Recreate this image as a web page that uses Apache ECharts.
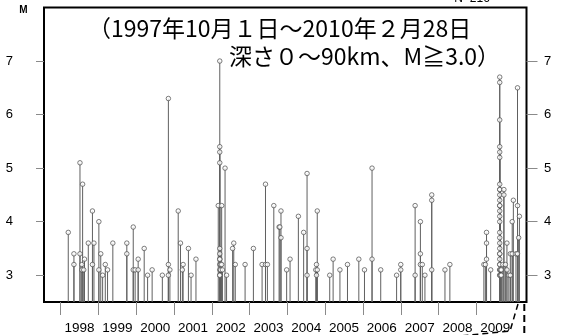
<!DOCTYPE html>
<html><head><meta charset="utf-8">
<script src="https://cdn.jsdelivr.net/npm/echarts@6/dist/echarts.min.js"></script>
<style>html,body{margin:0;padding:0;background:#fff}#c{width:565px;height:335px}</style>
</head><body><div id="c"></div>
<script>
const yearTicks = [1998,1999,2000,2001,2002,2003,2004,2005,2006,2007,2008,2009];
const yearLabels = ['1998','1999','2000','2001','2002','2003','2004','2005','2006','2007','2008','2009'];
const magTicks = [3,4,5,6,7];
const titleLine1 = '（1997年10月１日～2010年２月28日';
const titleLine2 = '深さ０～90km、M≧3.0）';
const countLabel = 'N=216';
const axisName = 'M';

const eventYears = [
 1998.20,1998.35,1998.35,1998.51,1998.51,1998.56,1998.56,1998.58,1998.61,1998.63,
 1998.73,1998.84,1998.84,1998.88,1999.01,1999.01,1999.06,1999.11,1999.18,1999.24,
 1999.38,1999.75,1999.75,1999.92,1999.92,1999.97,2000.05,2000.05,2000.21,2000.30,
 2000.42,2000.69,2000.85,2000.85,2000.85,2000.89,2001.11,2001.17,2001.22,2001.24,
 2001.38,2001.45,2001.58,2002.17,2002.21,2002.21,2002.21,2002.21,2002.21,2002.21,
 2002.21,2002.21,2002.21,2002.21,2002.21,2002.21,2002.23,2002.23,2002.26,2002.26,
 2002.28,2002.35,2002.39,2002.55,2002.58,2002.62,2002.88,2003.10,2003.33,2003.42,
 2003.42,2003.47,2003.64,2003.78,2003.80,2003.83,2003.83,2003.98,2004.07,2004.29,
 2004.43,2004.52,2004.52,2004.52,2004.75,2004.77,2004.77,2004.79,2004.79,2005.12,
 2005.21,2005.39,2005.59,2005.89,2006.04,2006.24,2006.24,2006.47,2006.89,2007.00,
 2007.00,2007.38,2007.38,2007.52,2007.52,2007.52,2007.57,2007.64,2007.82,2007.82,
 2007.82,2008.17,2008.30,2009.20,2009.24,2009.27,2009.27,2009.27,2009.38,
 2009.62,2009.62,2009.62,2009.62,2009.62,2009.62,2009.62,2009.62,2009.62,2009.62,
 2009.62,2009.62,2009.62,2009.62,2009.62,2009.62,2009.62,2009.62,2009.62,2009.62,
 2009.62,2009.62,2009.62,2009.62,2009.62,2009.62,2009.62,2009.62,2009.62,
 2009.64,2009.64,2009.66,2009.66,2009.70,2009.73,2009.73,2009.77,2009.81,2009.81,
 2009.86,2009.90,2009.90,2009.95,2009.95,2009.98,2010.05,2010.09,2010.09,2010.09,
 2010.12,2010.14
];
const eventMags = [
 3.8,3.4,3.2,5.1,3.4,3.2,3.1,4.7,3.1,3.3,
 3.6,4.2,3.2,3.6,4.0,3.1,3.4,3.0,3.2,3.1,
 3.6,3.6,3.4,3.9,3.1,3.1,3.3,3.1,3.5,3.0,
 3.1,3.0,6.3,3.2,3.0,3.1,4.2,3.6,3.1,3.2,
 3.5,3.0,3.3,4.3,7.0,5.4,5.3,5.1,3.5,3.4,
 3.3,3.3,3.2,3.1,3.0,3.0,3.2,3.1,4.3,3.2,
 3.1,5.0,3.0,3.5,3.6,3.2,3.2,3.5,3.2,4.7,
 3.2,3.2,4.3,3.9,3.9,4.2,3.7,3.1,3.3,4.1,
 3.8,4.9,3.5,3.0,3.1,3.2,3.0,4.2,3.1,3.0,
 3.3,3.1,3.2,3.3,3.1,5.0,3.3,3.1,3.0,3.2,
 3.1,4.3,3.0,4.0,3.4,3.2,3.2,3.0,4.5,4.4,
 3.1,3.1,3.2,3.2,3.2,3.8,3.6,3.3,3.1,
 6.7,6.6,5.9,5.4,5.3,5.2,4.7,4.6,4.6,4.5,
 4.4,4.3,4.3,4.2,4.1,4.0,3.8,3.7,3.6,3.5,
 3.4,3.4,3.3,3.2,3.2,3.1,3.1,3.0,3.0,
 3.1,3.0,3.1,3.0,3.2,4.6,4.5,3.2,3.6,3.1,
 3.0,3.4,3.0,4.0,3.4,4.4,3.4,6.5,4.3,3.4,
 3.7,4.1
];

const points = eventYears.map((y, i) => [y, eventMags[i]]);
const chart = echarts.init(document.getElementById('c'), null, {renderer: 'canvas'});
const tickStyle = {color: '#8a8a8a', width: 1};
const labelFont = {color: '#000', fontSize: 13, fontFamily: 'Liberation Sans, Arial, sans-serif'};

chart.setOption({
  animation: false,
  grid: {left: 44, right: 38.5, top: 7.5, bottom: 32.3, show: true, borderColor: '#000', borderWidth: 2, backgroundColor: 'transparent'},
  xAxis: {
    type: 'value', min: 1997.558, max: 2010.328,
    axisLine: {show: false},
    splitLine: {show: false},
    axisTick: {show: true, length: 13, lineStyle: tickStyle, customValues: yearTicks},
    axisLabel: Object.assign({}, labelFont, {fontSize: 13.5, margin: 19,
      customValues: yearTicks.map(y => y + 0.5),
      formatter: v => yearLabels[yearTicks.indexOf(Math.floor(v))] || ''})
  },
  yAxis: [
    {type: 'value', min: 2.5, max: 8, position: 'left',
     axisLine: {show: false}, splitLine: {show: false},
     axisTick: {show: true, length: 8, lineStyle: tickStyle, customValues: magTicks},
     axisLabel: Object.assign({}, labelFont, {margin: 31, customValues: magTicks})},
    {type: 'value', min: 2.5, max: 8, position: 'right',
     axisLine: {show: false}, splitLine: {show: false},
     axisTick: {show: true, length: 11, lineStyle: tickStyle, customValues: magTicks},
     axisLabel: Object.assign({}, labelFont, {margin: 17.5, customValues: magTicks})}
  ],
  series: [
    {type: 'custom', data: points, z: 2, silent: true,
     renderItem: (params, api) => {
       const top = api.coord([api.value(0), api.value(1)]);
       const base = api.coord([api.value(0), 2.5]);
       return {type: 'line', shape: {x1: top[0], y1: top[1], x2: base[0], y2: base[1]},
               style: {stroke: '#606060', lineWidth: 1}};
     }},
    {type: 'scatter', data: points, z: 3, symbol: 'circle', symbolSize: 4.5, silent: true,
     itemStyle: {color: '#fff', borderColor: '#4a4a4a', borderWidth: 0.9}}
  ],
  graphic: [
    {type: 'text', x: 88, y: 28, style: {text: titleLine1, fontSize: 23, fontFamily: 'Noto Sans CJK JP', fill: '#000', align: 'left', verticalAlign: 'middle'}},
    {type: 'text', x: 229, y: 56.5, style: {text: titleLine2, fontSize: 23, fontFamily: 'Noto Sans CJK JP', fill: '#000', align: 'left', verticalAlign: 'middle'}},
    {type: 'text', x: 23.5, y: 10, style: {text: axisName, fontSize: 10, fontWeight: 'bold', fontFamily: 'Liberation Sans, Arial, sans-serif', fill: '#000', align: 'center', verticalAlign: 'middle'}},
    {type: 'text', x: 472, y: -1, style: {text: countLabel, fontSize: 12, fontFamily: 'Liberation Sans, Arial, sans-serif', fill: '#000', align: 'center', verticalAlign: 'middle'}},
    {type: 'line', shape: {x1: 524.3, y1: 304, x2: 524.3, y2: 335}, style: {stroke: '#000', lineWidth: 2, lineDash: [7, 4]}},
    {type: 'polyline', shape: {points: [[518, 304], [510, 331], [450, 337]]}, style: {stroke: '#000', lineWidth: 1.5, lineDash: [6, 4], fill: null}}
  ]
});
</script></body></html>
